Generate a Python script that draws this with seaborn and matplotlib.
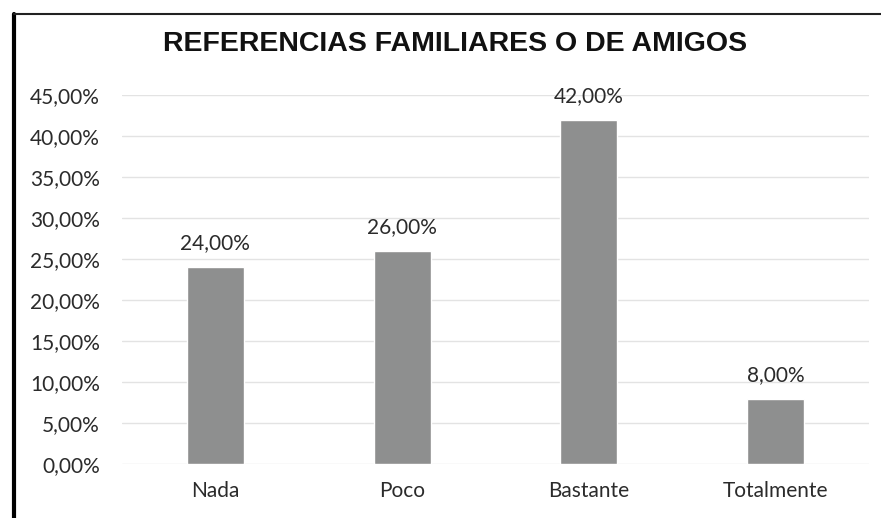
import matplotlib
matplotlib.use('Agg')
import pandas as pd
import seaborn as sb
import matplotlib.pyplot as plt
from matplotlib.lines import Line2D

# datos del grafico
categorias = ['Nada', 'Poco', 'Bastante', 'Totalmente']
porcentajes = [24.0, 26.0, 42.0, 8.0]
ticks_y = [0, 5, 10, 15, 20, 25, 30, 35, 40, 45]
titulo = 'REFERENCIAS FAMILIARES O DE AMIGOS'

df = pd.DataFrame({'categoria': categorias, 'valor': porcentajes})

sb.set_style('white')
plt.rcParams['font.family'] = ['Lato', 'DejaVu Sans']

fig = plt.figure(figsize=(8.81, 5.18), dpi=100)
ax = fig.add_axes([0.1385, 0.104, 0.848, 0.712])

sb.barplot(data=df, x='categoria', y='valor', color='#8e8f8f', width=0.305,
           saturation=1, ax=ax, zorder=3)

ax.set_ylim(0, 45)
ax.set_yticks(ticks_y)
ax.set_yticklabels([f'{t:.2f}%'.replace('.', ',') for t in ticks_y])
ax.grid(axis='y', color='#e3e3e3', linewidth=1, zorder=0)
ax.set_axisbelow(True)
for s in ax.spines.values():
    s.set_visible(False)
ax.tick_params(axis='both', length=0, labelsize=15, colors='#2b2b2b')
ax.tick_params(axis='y', pad=16)
ax.tick_params(axis='x', pad=12)
ax.set_xlabel('')
ax.set_ylabel('')

# etiquetas encima de las barras
for i, v in enumerate(porcentajes):
    ax.annotate(f'{v:.2f}%'.replace('.', ','), (i, v), xytext=(0, 10),
                textcoords='offset points', ha='center', va='bottom',
                fontsize=15, color='#2b2b2b')

fig.text(0.517, 0.915, titulo, ha='center', va='center', fontsize=20.5,
         fontweight='bold', family='Liberation Sans', color='#111111')

# marco del grafico escaneado
fig.add_artist(Line2D([0.0155, 0.0155], [0, 0.973], color='black', linewidth=3,
                      transform=fig.transFigure))
fig.add_artist(Line2D([0.0155, 1], [0.973, 0.973], color='#222222', linewidth=1.5,
                      transform=fig.transFigure))

fig.savefig('out.png', dpi=100)
